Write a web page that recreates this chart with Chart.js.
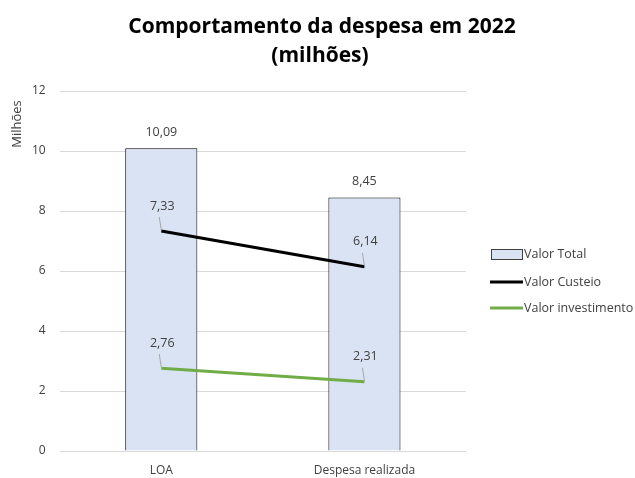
<!DOCTYPE html>
<html>
<head>
<meta charset="utf-8">
<script src="https://cdn.jsdelivr.net/npm/chart.js@4"></script>
<style>
  html, body { margin: 0; padding: 0; background: #fff; }
  #wrap { width: 635px; height: 478px; }
</style>
</head>
<body>
<div id="wrap"><canvas id="despesaChart"></canvas></div>
<script>
const categorias = ['LOA', 'Despesa realizada'];
const valorTotal = [10.09, 8.45];
const valorCusteio = [7.33, 6.14];
const valorInvestimento = [2.76, 2.31];
const yTicks = [0, 2, 4, 6, 8, 10, 12];

const FONT = "'Open Sans', 'Noto Sans', sans-serif";
const fmt = v => v.toFixed(2).replace('.', ',');

// titulo, eixo Y, rotulos e legenda
const extras = {
    id: 'extras',
    afterDatasetsDraw(chart) {
        const ctx = chart.ctx;
        ctx.save();

        // rotulos das barras
        ctx.fillStyle = '#404040';
        ctx.font = '12.5px ' + FONT;
        ctx.textAlign = 'center';
        ctx.textBaseline = 'middle';
        chart.getDatasetMeta(0).data.forEach((bar, i) => {
            ctx.fillText(fmt(valorTotal[i]), bar.x, bar.y - 16);
        });

        // rotulos das linhas com linha de chamada
        [1, 2].forEach(d => {
            const vals = d === 1 ? valorCusteio : valorInvestimento;
            chart.getDatasetMeta(d).data.forEach((pt, i) => {
                ctx.strokeStyle = '#a6a6a6';
                ctx.lineWidth = 1;
                ctx.beginPath();
                ctx.moveTo(pt.x - 2, pt.y - 14);
                ctx.lineTo(pt.x, pt.y - 1);
                ctx.stroke();
                ctx.fillStyle = '#404040';
                ctx.fillText(fmt(vals[i]), pt.x + 1, pt.y - 25);
            });
        });

        // titulo
        ctx.fillStyle = '#000';
        ctx.font = 'bold 21px ' + FONT;
        ctx.fillText('Comportamento da despesa em 2022', 322, 27);
        ctx.fillText('(milhões)', 320, 56);

        // titulo do eixo Y
        ctx.font = '13px ' + FONT;
        ctx.fillStyle = '#404040';
        ctx.translate(17, 124);
        ctx.rotate(-Math.PI / 2);
        ctx.fillText('Milhões', 0, 0);
        ctx.setTransform(1, 0, 0, 1, 0, 0);

        // legenda
        ctx.textAlign = 'left';
        ctx.font = '12.5px ' + FONT;
        ctx.fillStyle = '#dae3f3';
        ctx.fillRect(491, 249, 31, 10);
        ctx.strokeStyle = '#404040';
        ctx.lineWidth = 1;
        ctx.strokeRect(491.5, 249.5, 31, 10);
        ctx.fillStyle = '#404040';
        ctx.fillText('Valor Total', 524, 254);
        ctx.lineWidth = 3;
        ctx.strokeStyle = '#000';
        ctx.beginPath(); ctx.moveTo(490, 282); ctx.lineTo(523, 282); ctx.stroke();
        ctx.fillText('Valor Custeio', 524, 282);
        ctx.strokeStyle = '#70ad47';
        ctx.beginPath(); ctx.moveTo(490, 308); ctx.lineTo(523, 308); ctx.stroke();
        ctx.fillText('Valor investimento', 524, 308);
        ctx.restore();
    }
};

new Chart(document.getElementById('despesaChart').getContext('2d'), {
    type: 'bar',
    data: {
        labels: categorias,
        datasets: [{
            type: 'bar',
            label: 'Valor Total',
            data: valorTotal,
            backgroundColor: '#dae3f3',
            borderColor: '#000',
            borderWidth: 1,
            barPercentage: 0.355,
            categoryPercentage: 1,
            order: 3
        }, {
            type: 'line',
            label: 'Valor Custeio',
            data: valorCusteio,
            borderColor: '#000',
            borderWidth: 3,
            pointRadius: 0,
            order: 1
        }, {
            type: 'line',
            label: 'Valor investimento',
            data: valorInvestimento,
            borderColor: '#70ad47',
            borderWidth: 3,
            pointRadius: 0,
            order: 2
        }]
    },
    options: {
        responsive: true,
        maintainAspectRatio: false,
        animation: false,
        layout: {
            padding: { top: 91, right: 169, left: 18, bottom: 0 }
        },
        plugins: {
            legend: { display: false },
            title: { display: false },
            tooltip: { enabled: false }
        },
        scales: {
            y: {
                min: 0,
                max: 12,
                afterBuildTicks: axis => {
                    axis.ticks = yTicks.map(v => ({ value: v }));
                },
                ticks: {
                    color: '#404040',
                    padding: 14,
                    font: { size: 12, family: FONT }
                },
                grid: { color: '#d9d9d9', drawTicks: false },
                border: { display: false }
            },
            x: {
                afterFit: axis => { axis.height = 27; },
                ticks: {
                    color: '#404040',
                    padding: 12,
                    font: { size: 12, family: FONT }
                },
                grid: { display: false, drawTicks: false },
                border: { display: false }
            }
        }
    },
    plugins: [extras]
});
</script>
</body>
</html>
